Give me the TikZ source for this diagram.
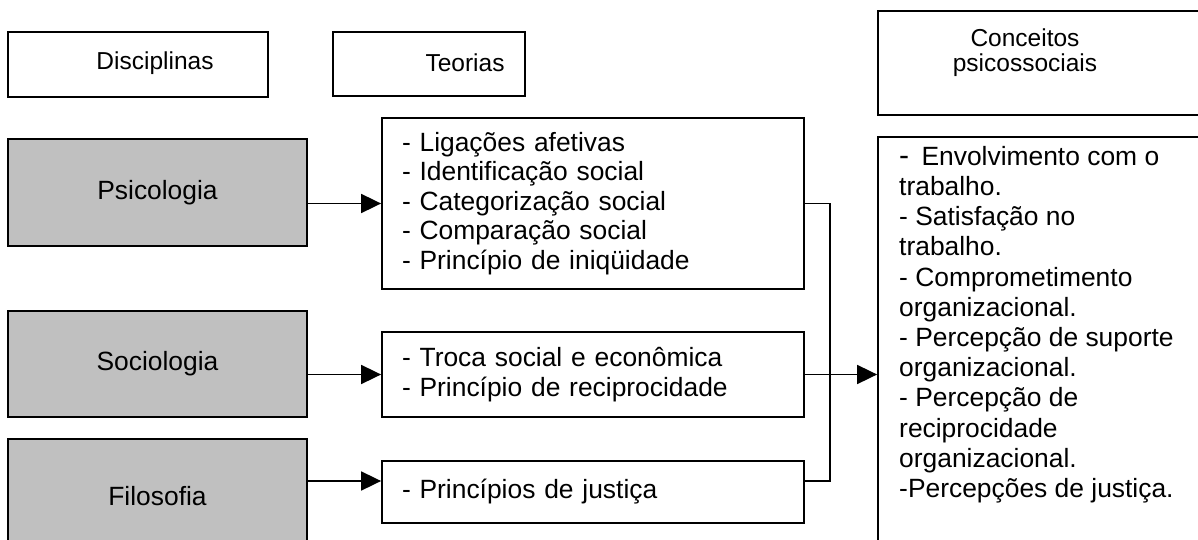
\documentclass[tikz,border=0pt]{standalone}
\usepackage{fontspec}
\setmainfont{Liberation Sans}
\usetikzlibrary{arrows.meta}
\definecolor{grayfill}{HTML}{C0C0C0}
\begin{document}
\begin{tikzpicture}[x=1pt,y=-1pt,
  box/.style={draw=black, line width=1.8pt, inner sep=0pt},
  greybox/.style={box, fill=grayfill},
  hdrfont/.style={font=\fontsize{24.5}{25}\selectfont},
  bodyfont/.style={font=\fontsize{26.4}{29.5}\selectfont},
  conn/.style={line width=1.8pt},
  arr/.style={conn, -{Triangle[length=20pt,width=19pt]}}]
\useasboundingbox (0,0) rectangle (1198,540);
\clip (0,0) rectangle (1198,540);
\fill[white] (0,0) rectangle (1198,540);

% header row
\node[box, minimum width=260pt, minimum height=65pt] (disc) at (138,64.5) {};
\node[hdrfont, inner sep=0pt] (disctxt) at (155,63) {Disciplinas};
\node[box, minimum width=192pt, minimum height=64pt] (teo) at (429,64) {};
\node[hdrfont, inner sep=0pt] (teotxt) at (465,63) {Teorias};
\node[box, minimum width=342pt, minimum height=104pt] (conchdr) at (1049,63) {};
\node[hdrfont, align=center, inner sep=0pt] (conchdrtxt) at (1025,53) {Conceitos\\psicossociais};

% disciplines
\node[greybox, bodyfont, minimum width=299pt, minimum height=107pt] (psi) at (157.5,192.5) {Psicologia};
\node[greybox, bodyfont, minimum width=299pt, minimum height=106pt] (soc) at (157.5,364) {Sociologia};
\node[greybox, bodyfont, minimum width=299pt, minimum height=114pt] (fil) at (157.5,496) {Filosofia};

% theories
\node[box, bodyfont, align=left, text width=382pt, inner xsep=20pt, minimum height=171pt] (lig) at (593,203.5)
  {- Ligações afetivas\\- Identificação social\\- Categorização social\\- Comparação social\\- Princípio de iniqüidade};
\node[box, bodyfont, align=left, text width=382pt, inner xsep=20pt, minimum height=85pt] (tsoc) at (593,374.5)
  {- Troca social e econômica\\- Princípio de reciprocidade};
\node[box, bodyfont, align=left, text width=382pt, inner xsep=20pt, minimum height=62pt] (tfil) at (593,492)
  {- Princípios de justiça};

% concepts
\node[box, minimum width=342pt, minimum height=423pt] (conc) at (1049,348.5) {};
\node[font=\fontsize{26.4}{30.2}\selectfont, align=left, inner sep=0pt, anchor=north west] (conctxt) at (899,146)
  {{\fontsize{30}{30.2}\selectfont -}\hspace{5pt} Envolvimento com o\\trabalho.\\- Satisfação no\\trabalho.\\- Comprometimento\\organizacional.\\- Percepção de suporte\\organizacional.\\- Percepção de\\reciprocidade\\organizacional.\\-Percepções de justiça.};

% connectors
\draw[arr] (psi.east |- lig.west) -- (lig.west);
\draw[arr] (soc.east |- tsoc.west) -- (tsoc.west);
\coordinate (fa) at ([yshift=11pt]tfil.west);
\draw[arr] (fil.east |- fa) -- (fa);

\coordinate (busx) at ([xshift=25pt]lig.east);
\coordinate (fe) at ([yshift=11pt]tfil.east);
\draw[conn] (lig.east) -- (busx) -- (busx |- fe) -- (fe);
\draw[arr] (tsoc.east) -- (tsoc.east -| conc.west);
\end{tikzpicture}
\end{document}
